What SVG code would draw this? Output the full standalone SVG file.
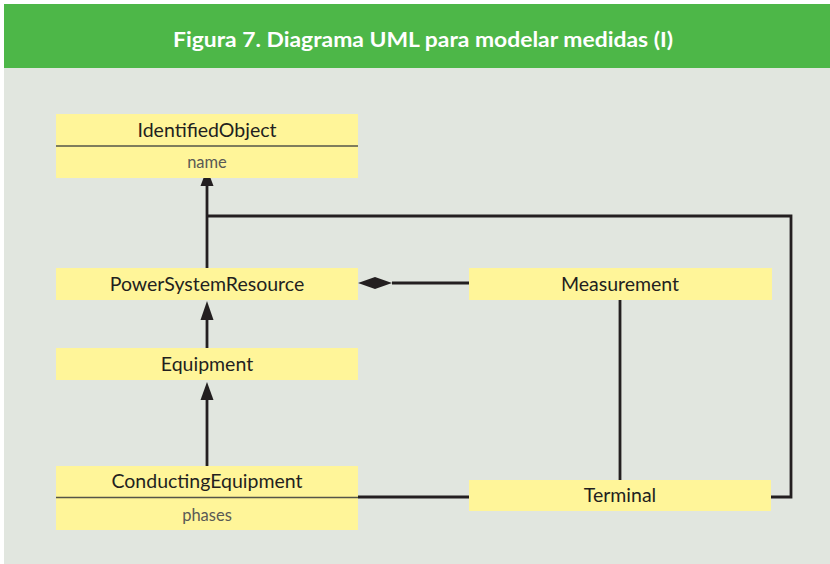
<svg xmlns="http://www.w3.org/2000/svg" width="830" height="564" viewBox="0 0 830 564">
<style>
.box{fill:#FFF599}
.div{stroke:#555548;stroke-width:1.6}
.name{font-family:Lato,"Open Sans",sans-serif;font-size:19.5px;fill:#231F20;text-anchor:middle}
.attr{font-family:Lato,"Open Sans",sans-serif;font-size:16.5px;fill:#5A5A55;text-anchor:middle}
.ln{stroke:#231F20;stroke-width:2.8;fill:none}
.head{fill:#231F20}
</style>
<rect x="0" y="0" width="830" height="564" fill="#FFFFFF"/>
<rect x="4" y="4" width="826" height="560" fill="#E1E6DF"/>
<rect x="4" y="4" width="826" height="64" fill="#4DB748"/>
<text x="423" y="47" font-family="Lato,'Open Sans',sans-serif" font-size="21" font-weight="bold" fill="#FFFFFF" text-anchor="middle" textLength="500" lengthAdjust="spacingAndGlyphs">Figura 7. Diagrama UML para modelar medidas (I)</text>

<g id="connectors">
  <polyline class="ln" points="207,186 207,268"/>
  <polyline class="ln" points="207,216 791,216 791,497 771,497"/>
  <polyline class="ln" points="207,319 207,348"/>
  <polyline class="ln" points="207,399 207,466"/>
  <polyline class="ln" points="392,283 469,283"/>
  <polyline class="ln" points="620,300 620,480"/>
  <polyline class="ln" points="357,497 469,497"/>
  <polygon class="head" points="203.5,178 210.5,178 213.5,186 200.5,186"/>
  <polygon class="head" points="207,301 200.5,320 213.5,320"/>
  <polygon class="head" points="207,382 200.5,400 213.5,400"/>
  <polygon class="head" points="358,283 375,277 392,283 375,289"/>
</g>

<g id="IdentifiedObject">
  <rect class="box" x="56" y="114" width="302" height="64"/>
  <line class="div" x1="56" y1="146" x2="358" y2="146"/>
  <text class="name" x="207" y="137">IdentifiedObject</text>
  <text class="attr" x="207" y="168">name</text>
</g>
<g id="PowerSystemResource">
  <rect class="box" x="56" y="268" width="302" height="32"/>
  <text class="name" x="207" y="291">PowerSystemResource</text>
</g>
<g id="Measurement">
  <rect class="box" x="469" y="268" width="303" height="32"/>
  <text class="name" x="620" y="291">Measurement</text>
</g>
<g id="Equipment">
  <rect class="box" x="56" y="348" width="302" height="32"/>
  <text class="name" x="207" y="371">Equipment</text>
</g>
<g id="ConductingEquipment">
  <rect class="box" x="56" y="466" width="302" height="64"/>
  <line class="div" x1="56" y1="497.5" x2="358" y2="497.5"/>
  <text class="name" x="207" y="488">ConductingEquipment</text>
  <text class="attr" x="207" y="521">phases</text>
</g>
<g id="Terminal">
  <rect class="box" x="469" y="480" width="302" height="31"/>
  <text class="name" x="620" y="502">Terminal</text>
</g>
</svg>
